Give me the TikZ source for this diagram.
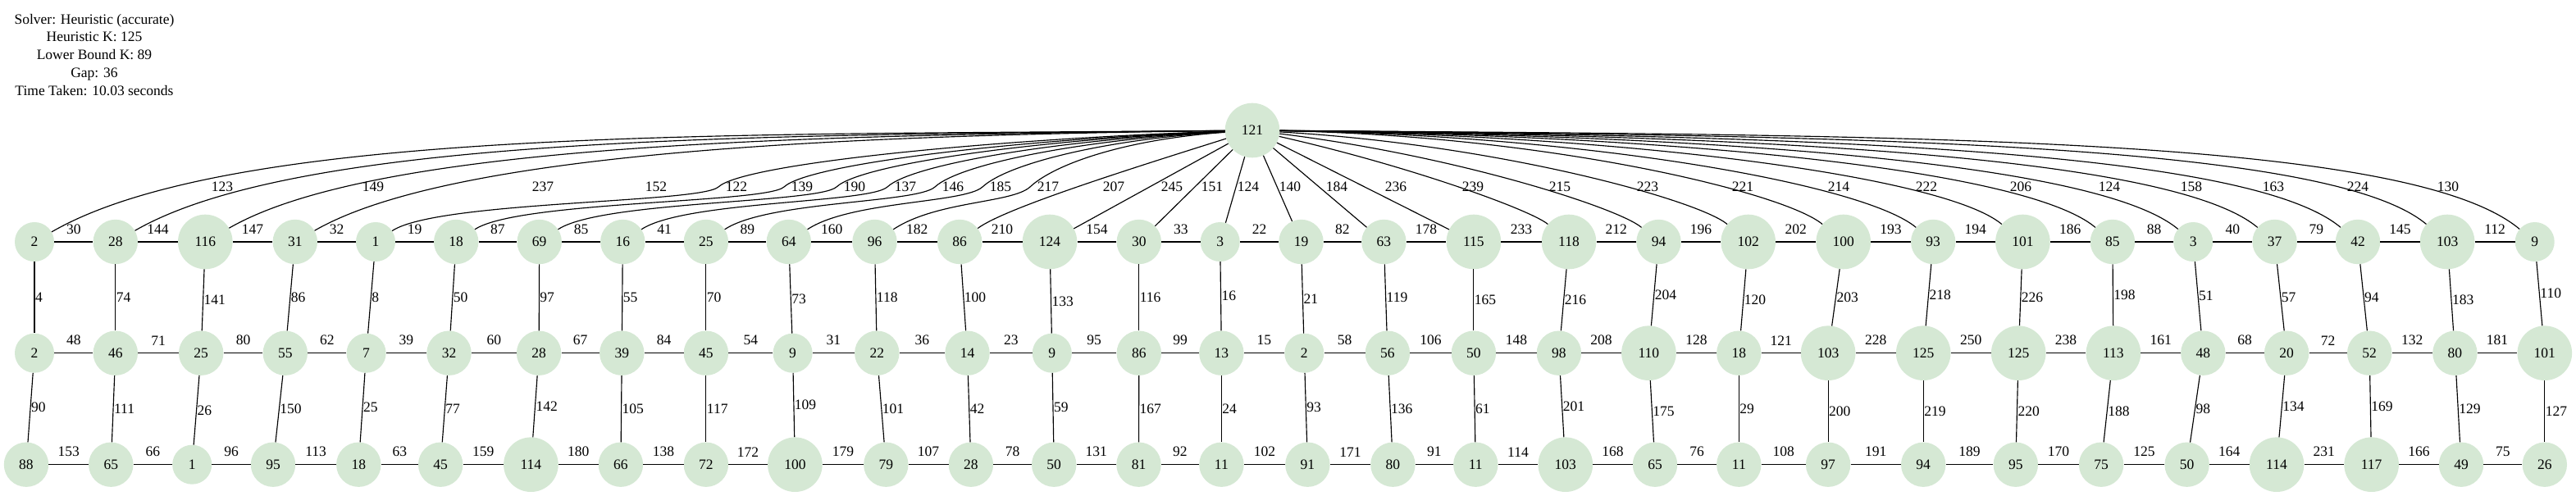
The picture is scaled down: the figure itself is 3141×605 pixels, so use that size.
\documentclass[tikz,border=0pt]{standalone}
\usepackage{fontspec}
\setmainfont{Liberation Serif}
\definecolor{nodegreen}{RGB}{213,232,212}
\newcommand\fsz{\fontsize{17.5}{21.7}\selectfont}
\begin{document}
\begin{tikzpicture}[x=1pt,y=1pt,
  vnode/.style={circle, fill=nodegreen, draw=none, inner sep=0pt, font=\fsz},
  conn/.style={line width=1.15pt, black},
  hlab/.style={midway, above=9pt, inner sep=0pt, font=\fsz},
  vlab/.style={midway, anchor=west, inner sep=0.5pt, font=\fsz},
  flab/.style={inner sep=0pt, font=\fsz}]
\fill[white] (0,0) rectangle (3141,605);
\useasboundingbox (0,0) rectangle (3141,605);

\node[font=\fsz, align=center, inner sep=0pt] (info) at (115,538.3)
  {Solver: Heuristic (accurate)\\Heuristic K: 125\\Lower Bound K: 89\\Gap: 36\\Time Taken: 10.03 seconds};

\node[vnode, minimum size=66.6pt] (top) at (1527,446) {121};

% top row
\foreach \i/\x/\v in {1/42.0/2, 2/140.8/28, 3/250.3/116, 4/359.8/31, 5/458.0/1, 6/556.2/18, 7/657.7/69, 8/759.3/16, 9/860.9/25, 10/961.8/64, 11/1066.5/96, 12/1170.2/86, 13/1280.0/124, 14/1388.8/30, 15/1487.7/3, 16/1586.5/19, 17/1687.4/63, 18/1796.9/115, 19/1913.0/118, 20/2022.5/94, 21/2131.7/102, 22/2247.7/100, 23/2357.2/93, 24/2466.4/101, 25/2575.9/85, 26/2674.2/3, 27/2773.6/37, 28/2875.0/42, 29/2984.1/103, 30/3090.7/9}{
  \pgfmathsetmacro\nsz{ifthenelse(\v>99,66.6,ifthenelse(\v>9,54.4,48))}
  \node[vnode, minimum size=\nsz pt] (t\i) at (\x,310) {\v};
}
% middle row
\foreach \i/\x/\v in {1/42.0/2, 2/140.8/46, 3/245.2/25, 4/347.8/55, 5/446.6/7, 6/547.5/32, 7/657.1/28, 8/758.3/39, 9/860.9/45, 10/966.6/9, 11/1069.3/22, 12/1179.5/14, 13/1282.8/9, 14/1388.8/86, 15/1489.4/13, 16/1590.3/2, 17/1691.9/56, 18/1796.9/50, 19/1900.9/98, 20/2010.4/110, 21/2120.3/18, 22/2229.1/103, 23/2345.2/125, 24/2461.2/125, 25/2576.9/113, 26/2686.3/48, 27/2788.1/20, 28/2889.2/52, 29/2993.4/80, 30/3102.8/101}{
  \pgfmathsetmacro\nsz{ifthenelse(\v>99,66.6,ifthenelse(\v>9,54.4,48))}
  \node[vnode, minimum size=\nsz pt] (m\i) at (\x,174.3) {\v};
}
% bottom row
\foreach \i/\x/\v in {1/32.0/88, 2/135.3/65, 3/234.2/1, 4/333.0/95, 5/437.3/18, 6/537.2/45, 7/647.4/114, 8/756.9/66, 9/860.9/72, 10/969.4/100, 11/1080.3/79, 12/1183.9/28, 13/1285.2/50, 14/1388.5/81, 15/1489.4/11, 16/1594.4/91, 17/1698.4/80, 18/1799.3/11, 19/1908.8/103, 20/2018.0/65, 21/2120.3/11, 22/2229.1/97, 23/2345.2/94, 24/2457.8/95, 25/2562.1/75, 26/2666.6/50, 27/2776.0/114, 28/2891.6/117, 29/3001.0/49, 30/3102.8/26}{
  \pgfmathsetmacro\nsz{ifthenelse(\v>99,66.6,ifthenelse(\v>9,54.4,48))}
  \node[vnode, minimum size=\nsz pt] (b\i) at (\x,38.3) {\v};
}

% horizontal edges
\foreach \l [count=\i] in {30,144,147,32,19,87,85,41,89,160,182,210,154,33,22,82,178,233,212,196,202,193,194,186,88,40,79,145,112}{
  \pgfmathtruncatemacro\j{\i+1}
  \draw[conn] (t\i) -- (t\j) node[hlab] {\l};
}
\foreach \l [count=\i] in {48,71,80,62,39,60,67,84,54,31,36,23,95,99,15,58,106,148,208,128,121,228,250,238,161,68,72,132,181}{
  \pgfmathtruncatemacro\j{\i+1}
  \draw[conn] (m\i) -- (m\j) node[hlab] {\l};
}
\foreach \l [count=\i] in {153,66,96,113,63,159,180,138,172,179,107,78,131,92,102,171,91,114,168,76,108,191,189,170,125,164,231,166,75}{
  \pgfmathtruncatemacro\j{\i+1}
  \draw[conn] (b\i) -- (b\j) node[hlab] {\l};
}
% vertical edges
\foreach \l [count=\i] in {4,74,141,86,8,50,97,55,70,73,118,100,133,116,16,21,119,165,216,204,120,203,218,226,198,51,57,94,183,110}{
  \draw[conn] (t\i) -- (m\i) node[vlab] {\l};
}
\foreach \l [count=\i] in {90,111,26,150,25,77,142,105,117,109,101,42,59,167,24,93,136,61,201,175,29,200,219,220,188,98,134,169,129,127}{
  \draw[conn] (m\i) -- (b\i) node[vlab] {\l};
}

% fan edges from the top node (smooth curves)
\foreach \c/\xt/\lab/\lx in {1/42.0/123/271, 2/140.8/149/455, 3/250.3/237/662, 4/359.8/152/800, 12/1170.2/207/1358, 19/1913.0/239/1796, 20/2022.5/215/1902, 21/2131.7/223/2009, 22/2247.7/221/2125, 23/2357.2/214/2242, 24/2466.4/222/2349, 25/2575.9/206/2464, 26/2674.2/124/2572, 27/2773.6/158/2672, 28/2875.0/163/2772, 29/2984.1/224/2875, 30/3090.7/130/2985}{
  \pgfmathsetmacro\fanDx{\xt-1527}
  \pgfmathsetmacro\fanD{abs(\fanDx)}
  \pgfmathsetmacro\fanS{ifthenelse(\fanDx<0,-1,1)}
  \pgfmathsetmacro\fanTh{ifthenelse(\fanDx<0,30+max(0,(700-\fanD)*0.02),40)}
  \pgfmathsetmacro\fanR{max(ifthenelse(\fanDx<0,0.19,0.13)*\fanD,60)}
  \pgfmathsetmacro\fanAx{1527+ifthenelse(\fanDx<0,0.42,0.5)*(\fanDx)}
  \pgfmathsetmacro\fanAy{605-165-max(0,(700-\fanD)*0.12)}
  \pgfmathsetmacro\fanBx{\xt-\fanS*\fanR*cos(\fanTh)}
  \pgfmathsetmacro\fanBy{310+\fanR*sin(\fanTh)}
  \draw[conn] (top) .. controls (\fanAx,\fanAy) and (\fanBx,\fanBy) .. (t\c);
  \node[flab] (f\c) at (\lx,377.5) {\lab};
}
% fan edges from the top node (S-shaped, dropping beside their label)
\foreach \c/\xt/\lab/\lx in {5/458.0/122/898, 6/556.2/139/978, 7/657.7/190/1042, 8/759.3/137/1104, 9/860.9/146/1162, 10/961.8/185/1220, 11/1066.5/217/1278}{
  \pgfmathsetmacro\fanWx{\lx-22}
  \pgfmathsetmacro\fanAx{1494-0.45*(1527-\fanWx)}
  \coordinate (w\c) at (\fanWx,377);
  \draw[conn] (top) .. controls (\fanAx,435) and (\fanWx+30,405) .. (w\c)
    .. controls (\fanWx-22,357) and (\xt+75,360) .. (t\c);
  \node[flab] (f\c) at (\lx,377.5) {\lab};
}
% fan edges (straight)
\foreach \c/\lab/\lx in {13/245/1429, 14/151/1478, 15/124/1522, 16/140/1573, 17/184/1630, 18/236/1702}{
  \draw[conn] (top) -- (t\c);
  \node[flab] (f\c) at (\lx,377.5) {\lab};
}
\end{tikzpicture}
\end{document}
